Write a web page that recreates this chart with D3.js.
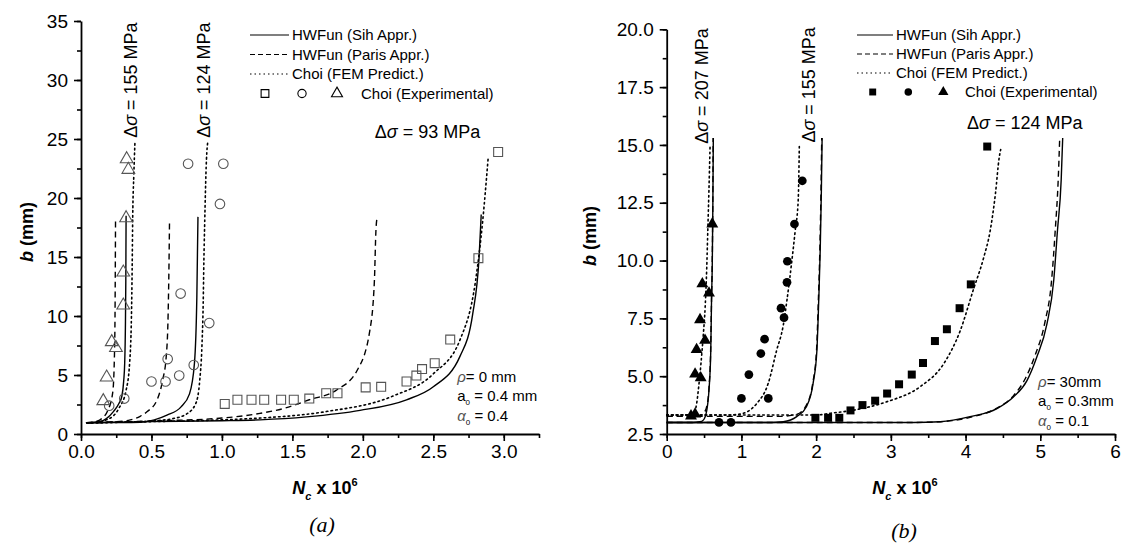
<!DOCTYPE html>
<html>
<head>
<meta charset="utf-8">
<script src="https://cdn.jsdelivr.net/npm/d3@7"></script>
<style>
    body { margin: 0; background: #fff; }
    svg text { font-family: "Liberation Sans", Arial, sans-serif; fill: #000; }
</style>
</head>
<body>
<script>
// ---------- panel (a) : rho = 0 mm ----------
const aXTicks = [0, 0.5, 1.0, 1.5, 2.0, 2.5, 3.0];
const aYTicks = [0, 5, 10, 15, 20, 25, 30, 35];

const aSih155 = [[0.04, 0.95], [0.1, 1.0], [0.135, 1.04], [0.18, 1.3], [0.23, 1.9], [0.27, 2.6], [0.29, 3.2], [0.303, 4.5], [0.31, 6], [0.315, 9], [0.318, 13], [0.32, 18.5]];
const aParis155 = [[0.04, 0.95], [0.1, 1.05], [0.135, 1.2], [0.19, 2.0], [0.225, 3.5], [0.237, 6.5], [0.242, 11], [0.245, 18.1]];
const aFem155 = [[0.04, 0.95], [0.1, 1.0], [0.2, 1.3], [0.27, 2.2], [0.32, 3.7], [0.345, 6.0], [0.358, 10], [0.363, 14], [0.367, 18.4], [0.375, 22], [0.383, 24.8]];

const aSih124 = [[0.04, 0.95], [0.2, 0.97], [0.42, 1.0], [0.52, 1.2], [0.61, 1.6], [0.71, 2.3], [0.77, 3.4], [0.805, 6.0], [0.822, 11.6], [0.83, 18.4]];
const aParis124 = [[0.04, 0.95], [0.2, 1.0], [0.35, 1.2], [0.42, 1.5], [0.47, 1.9], [0.54, 2.9], [0.58, 4.6], [0.605, 6.6], [0.618, 10], [0.624, 14], [0.628, 17.9]];
const aFem124 = [[0.04, 0.95], [0.3, 1.0], [0.5, 1.1], [0.65, 1.3], [0.75, 1.7], [0.815, 2.6], [0.843, 4.6], [0.858, 7.4], [0.867, 11], [0.872, 14.7], [0.877, 17.5], [0.89, 23.2], [0.9, 24.8]];

const aSih93 = [[0.04, 0.95], [0.5, 1.05], [1.0, 1.12], [1.27, 1.2], [1.6, 1.45], [1.98, 2.0], [2.31, 2.9], [2.5, 4.0], [2.69, 6.6], [2.78, 10.2], [2.825, 15], [2.84, 18.6]];
const aParis93 = [[0.04, 0.95], [0.5, 1.1], [1.0, 1.35], [1.27, 1.75], [1.45, 2.2], [1.62, 2.9], [1.81, 3.7], [1.96, 5.4], [2.05, 8.8], [2.082, 13], [2.093, 17.3], [2.1, 18.3]];
const aFem93 = [[0.04, 0.95], [0.5, 1.05], [1.0, 1.2], [1.27, 1.35], [1.74, 1.9], [2.21, 3.2], [2.5, 5.1], [2.69, 8.0], [2.8, 13], [2.85, 18], [2.89, 23.5]];

const aExp93 = [[1.02, 2.55], [1.11, 2.9], [1.21, 2.9], [1.30, 2.9], [1.42, 2.9], [1.51, 2.9], [1.62, 3.0], [1.74, 3.45], [1.82, 3.45], [2.02, 3.95], [2.13, 4.0], [2.31, 4.45], [2.38, 4.95], [2.42, 5.5], [2.51, 6.0], [2.62, 8.0], [2.82, 14.9], [2.96, 23.9]];
const aExp124 = [[0.20, 2.4], [0.307, 3.0], [0.50, 4.45], [0.60, 4.45], [0.697, 4.95], [0.80, 5.85], [0.615, 6.35], [0.91, 9.4], [0.707, 11.9], [0.986, 19.5], [0.76, 22.9], [1.01, 22.9]];
const aExp155 = [[0.158, 2.8], [0.182, 4.8], [0.248, 7.3], [0.218, 7.8], [0.30, 10.9], [0.30, 13.7], [0.32, 18.3], [0.324, 23.3], [0.336, 22.4]];

// ---------- panel (b) : rho = 30 mm ----------
const bXTicks = [0, 1, 2, 3, 4, 5, 6];
const bYTicks = [2.5, 5.0, 7.5, 10.0, 12.5, 15.0, 17.5, 20.0];

const bSih207 = [[0, 3.0], [0.35, 3.0], [0.446, 3.03], [0.49, 3.1], [0.535, 3.5], [0.566, 4.4], [0.59, 6.1], [0.60, 8.3], [0.61, 9.85], [0.618, 12.5], [0.624, 15.3]];
const bParis207 = [[0, 3.26], [0.35, 3.26], [0.45, 3.3], [0.5, 3.42], [0.537, 3.7], [0.566, 4.5], [0.588, 6.1], [0.60, 8.3], [0.61, 10], [0.617, 12.5], [0.622, 15.3]];
const bFem207 = [[0, 3.32], [0.3, 3.33], [0.36, 3.38], [0.40, 3.8], [0.43, 4.6], [0.46, 5.6], [0.49, 6.8], [0.515, 8.0], [0.535, 9.6], [0.55, 11.3], [0.565, 13], [0.58, 14.9]];

const bSih155 = [[0, 3.0], [1.4, 3.0], [1.56, 3.03], [1.74, 3.25], [1.87, 3.68], [1.96, 4.7], [2.01, 6.1], [2.035, 8.3], [2.055, 10.5], [2.07, 13], [2.08, 15.3]];
const bParis155 = [[0, 3.26], [1.5, 3.26], [1.74, 3.35], [1.87, 3.75], [1.955, 4.7], [2.005, 6.1], [2.03, 8.3], [2.05, 10.5], [2.065, 13], [2.075, 15.3]];
const bFem155 = [[0, 3.32], [0.8, 3.32], [0.98, 3.36], [1.2, 3.8], [1.36, 4.7], [1.47, 6.1], [1.56, 7.2], [1.61, 8.3], [1.67, 9.85], [1.72, 11.3], [1.76, 12.6], [1.775, 14.95]];

const bSih124 = [[0, 3.0], [3.3, 3.0], [3.66, 3.03], [4.06, 3.25], [4.42, 3.6], [4.64, 4.1], [4.82, 4.8], [4.95, 5.8], [5.09, 7.27], [5.18, 9.14], [5.23, 11.3], [5.28, 13.5], [5.30, 15.3]];
const bParis124 = [[0, 3.0], [3.3, 3.0], [3.66, 3.03], [4.06, 3.22], [4.42, 3.62], [4.64, 4.15], [4.80, 4.9], [4.93, 5.9], [5.06, 7.3], [5.15, 9.1], [5.20, 11.3], [5.24, 13.5], [5.26, 15.3]];
const bFem124 = [[0, 3.32], [2.0, 3.32], [2.2, 3.4], [2.5, 3.53], [2.95, 3.9], [3.39, 4.54], [3.71, 5.55], [3.93, 6.98], [4.1, 8.7], [4.24, 10.1], [4.33, 11.3], [4.40, 12.9], [4.45, 14.45], [4.47, 14.8]];

const bExp124 = [[1.99, 3.2], [2.16, 3.2], [2.31, 3.2], [2.46, 3.52], [2.62, 3.75], [2.79, 3.94], [2.95, 4.25], [3.11, 4.65], [3.28, 5.07], [3.43, 5.57], [3.59, 6.52], [3.75, 7.03], [3.92, 7.94], [4.07, 8.97], [4.29, 14.93]];
const bExp155 = [[0.70, 3.0], [0.86, 3.0], [1.0, 4.04], [1.1, 5.07], [1.26, 5.98], [1.31, 6.6], [1.36, 4.04], [1.53, 7.94], [1.57, 7.53], [1.61, 9.06], [1.615, 9.97], [1.71, 11.58], [1.815, 13.45]];
const bExp207 = [[0.325, 3.28], [0.38, 3.36], [0.38, 5.09], [0.455, 4.93], [0.40, 6.15], [0.513, 6.55], [0.446, 7.44], [0.477, 8.99], [0.566, 8.59], [0.61, 11.58]];

const legendLabels = ["HWFun (Sih Appr.)", "HWFun (Paris Appr.)", "Choi (FEM Predict.)", "Choi (Experimental)"];

const W = 1124, H = 544;
const svg = d3.select("body").append("svg")
    .attr("width", W)
    .attr("height", H);

const dashes = { sih: null, paris: "6,4", fem: "1.6,3.2" };

function drawPanel(p) {
    let x = d3.scaleLinear().domain(p.xDomain).range(p.xRange);
    let y = d3.scaleLinear().domain(p.yDomain).range(p.yRange);
    let g = svg.append("g");

    // minor ticks first, then major ticks + labels
    g.append("g")
        .attr("transform", "translate(0," + p.yRange[0] + ")")
        .call(d3.axisBottom(x).tickValues(p.xMinor).tickSize(4).tickSizeOuter(0).tickFormat(""))
        .call(a => a.select(".domain").remove());
    g.append("g")
        .attr("transform", "translate(" + p.xRange[0] + ",0)")
        .call(d3.axisLeft(y).tickValues(p.yMinor).tickSize(4).tickSizeOuter(0).tickFormat(""))
        .call(a => a.select(".domain").remove());

    let xAxis = g.append("g")
        .attr("transform", "translate(0," + p.yRange[0] + ")")
        .call(d3.axisBottom(x).tickValues(p.xTicks).tickSize(7).tickSizeOuter(0).tickPadding(4).tickFormat(p.xFormat));
    let yAxis = g.append("g")
        .attr("transform", "translate(" + p.xRange[0] + ",0)")
        .call(d3.axisLeft(y).tickValues(p.yTicks).tickSize(7).tickSizeOuter(0).tickPadding(6).tickFormat(p.yFormat));

    g.selectAll(".tick line").attr("stroke", "#000").attr("stroke-width", 1.6);
    g.selectAll(".domain").attr("stroke", "#000").attr("stroke-width", 1.8);
    xAxis.selectAll("text").style("font-size", "19px").style("font-family", "'Liberation Sans', Arial");
    yAxis.selectAll("text").style("font-size", "19px").style("font-family", "'Liberation Sans', Arial");

    // curves
    let line = d3.line()
        .x(d => x(d[0]))
        .y(d => y(d[1]))
        .curve(d3.curveMonotoneX);

    p.curves.forEach(c => {
        g.append("path")
            .datum(c.data)
            .attr("fill", "none")
            .attr("stroke", "#000")
            .attr("stroke-width", c.kind == "fem" ? 1.6 : 1.4)
            .attr("stroke-linecap", c.kind == "fem" ? "round" : "butt")
            .attr("stroke-dasharray", dashes[c.kind])
            .attr("d", line);
    });

    // experimental points
    p.points.forEach(s => {
        g.selectAll(null)
            .data(s.data)
            .enter()
            .append("path")
            .attr("transform", d => "translate(" + x(d[0]) + "," + y(d[1]) + ")")
            .attr("d", d3.symbol().type(s.type).size(s.size))
            .attr("fill", p.filled ? "#000" : "none")
            .attr("stroke", p.filled ? "none" : "#555")
            .attr("stroke-width", 1.1);
    });

    // legend
    let lg = g.append("g");
    legendLabels.slice(0, 3).forEach((t, i) => {
        let ly = p.legend.y + i * p.legend.dy;
        lg.append("line")
            .attr("x1", p.legend.x1).attr("x2", p.legend.x2)
            .attr("y1", ly - 5).attr("y2", ly - 5)
            .attr("stroke", "#000")
            .attr("stroke-width", 1.2)
            .attr("stroke-dasharray", i == 0 ? null : (i == 1 ? "5,3" : "1.5,3"));
        lg.append("text")
            .attr("x", p.legend.x2 + 3).attr("y", ly)
            .style("font-size", "15px")
            .text(t);
    });
    let my = p.legend.y + 3 * p.legend.dy;
    p.points.forEach((s, i) => {
        lg.append("path")
            .attr("transform", "translate(" + p.legend.markerX[i] + "," + (my - 5) + ")")
            .attr("d", d3.symbol().type(s.type).size(s.size * 0.75))
            .attr("fill", p.filled ? "#000" : "none")
            .attr("stroke", p.filled ? "none" : "#000")
            .attr("stroke-width", 1.1);
    });
    lg.append("text")
        .attr("x", p.legend.markerX[3]).attr("y", my)
        .style("font-size", "15px")
        .text(legendLabels[3]);

    // stress annotations
    p.stress.forEach(s => {
        let t = g.append("text")
            .style("font-size", "18px");
        if (s.rotate) {
            t.attr("transform", "translate(" + x(s.x) + "," + y(s.y) + ") rotate(-90)");
        } else {
            t.attr("x", x(s.x)).attr("y", y(s.y));
        }
        t.append("tspan").text("\u0394");
        t.append("tspan").style("font-style", "italic").text("\u03C3");
        t.append("tspan").text(" = " + s.mpa + " MPa");
    });

    // parameters
    let px = x(p.params.x);
    p.params.lines.forEach((l, i) => {
        let t = g.append("text")
            .attr("x", px)
            .attr("y", p.params.y[i])
            .style("font-size", "15px");
        t.append("tspan").style("font-style", l.sym == "a" ? "normal" : "italic")
            .attr("fill", l.sym == "a" ? "#000" : "#555").text(l.main);
        if (l.sub) t.append("tspan").attr("dy", 4).style("font-size", "8px").text(l.sub);
        t.append("tspan").attr("dy", l.sub ? -4 : 0).text(l.rest);
    });

    // axis titles
    let yt = g.append("text")
        .attr("transform", "translate(" + p.yTitle[0] + "," + p.yTitle[1] + ") rotate(-90)")
        .attr("text-anchor", "middle")
        .style("font-size", "18px")
        .style("font-weight", "bold");
    yt.append("tspan").style("font-style", "italic").text("b");
    yt.append("tspan").text(" (mm)");

    let xt = g.append("text")
        .attr("x", p.xTitle[0]).attr("y", p.xTitle[1])
        .attr("text-anchor", "middle")
        .style("font-size", "18px")
        .style("font-weight", "bold");
    xt.append("tspan").style("font-style", "italic").text("N");
    xt.append("tspan").attr("dy", 6).style("font-size", "11px").style("font-style", "italic").text("c");
    xt.append("tspan").attr("dy", -6).text(" x 10");
    xt.append("tspan").attr("dy", -8).style("font-size", "11px").text("6");

    g.append("text")
        .attr("x", p.caption[0]).attr("y", p.caption[1])
        .attr("text-anchor", "middle")
        .style("font-family", "'Liberation Serif', 'Times New Roman', serif")
        .style("font-style", "italic")
        .style("font-size", "22px")
        .text(p.caption[2]);
}

drawPanel({
    xDomain: [0, 3.25], xRange: [81, 539],
    yDomain: [0, 35], yRange: [434, 21],
    xTicks: aXTicks, yTicks: aYTicks,
    xMinor: d3.range(0, 3.26, 0.25), yMinor: d3.range(0, 35.1, 2.5),
    xFormat: d3.format(".1f"), yFormat: d3.format("d"),
    filled: false,
    curves: [
        { kind: "sih", data: aSih155 }, { kind: "paris", data: aParis155 }, { kind: "fem", data: aFem155 },
        { kind: "sih", data: aSih124 }, { kind: "paris", data: aParis124 }, { kind: "fem", data: aFem124 },
        { kind: "sih", data: aSih93 }, { kind: "paris", data: aParis93 }, { kind: "fem", data: aFem93 }
    ],
    points: [
        { type: d3.symbolSquare, size: 80, data: aExp93 },
        { type: d3.symbolCircle, size: 72, data: aExp124 },
        { type: d3.symbolTriangle, size: 70, data: aExp155 }
    ],
    legend: { x1: 250, x2: 289, y: 40, dy: 19.5, markerX: [265, 302, 337, 361] },
    stress: [
        { x: 0.395, y: 25.1, mpa: 155, rotate: true },
        { x: 0.915, y: 25.1, mpa: 124, rotate: true },
        { x: 2.085, y: 25.1, mpa: 93, rotate: false }
    ],
    params: {
        x: 2.67, y: [382, 400.5, 420.5],
        lines: [
            { sym: "rho", main: "\u03C1", rest: "= 0 mm" },
            { sym: "a", main: "a", sub: "0", rest: " = 0.4 mm" },
            { sym: "alpha", main: "\u03B1", sub: "0", rest: " = 0.4" }
        ]
    },
    yTitle: [33, 232], xTitle: [325, 494], caption: [322, 532, "(a)"]
});

drawPanel({
    xDomain: [0, 6], xRange: [666.7, 1115],
    yDomain: [2.5, 20], yRange: [434, 29.3],
    xTicks: bXTicks, yTicks: bYTicks,
    xMinor: d3.range(0, 6.01, 0.5), yMinor: d3.range(2.5, 20.01, 1.25),
    xFormat: d3.format("d"), yFormat: d3.format(".1f"),
    filled: true,
    curves: [
        { kind: "sih", data: bSih207 }, { kind: "paris", data: bParis207 }, { kind: "fem", data: bFem207 },
        { kind: "sih", data: bSih155 }, { kind: "paris", data: bParis155 }, { kind: "fem", data: bFem155 },
        { kind: "sih", data: bSih124 }, { kind: "paris", data: bParis124 }, { kind: "fem", data: bFem124 }
    ],
    points: [
        { type: d3.symbolSquare, size: 64, data: bExp124 },
        { type: d3.symbolCircle, size: 60, data: bExp155 },
        { type: d3.symbolTriangle, size: 62, data: bExp207 }
    ],
    legend: { x1: 857, x2: 893, y: 40, dy: 19, markerX: [872.7, 908.3, 943.3, 965] },
    stress: [
        { x: 0.553, y: 15.05, mpa: 207, rotate: true },
        { x: 1.985, y: 15.1, mpa: 155, rotate: true },
        { x: 4.02, y: 15.68, mpa: 124, rotate: false }
    ],
    params: {
        x: 4.97, y: [387, 405.5, 425.5],
        lines: [
            { sym: "rho", main: "\u03C1", rest: "= 30mm" },
            { sym: "a", main: "a", sub: "0", rest: " = 0.3mm" },
            { sym: "alpha", main: "\u03B1", sub: "0", rest: " = 0.1" }
        ]
    },
    yTitle: [596, 236], xTitle: [905, 494], caption: [904, 538, "(b)"]
});
</script>
</body>
</html>
